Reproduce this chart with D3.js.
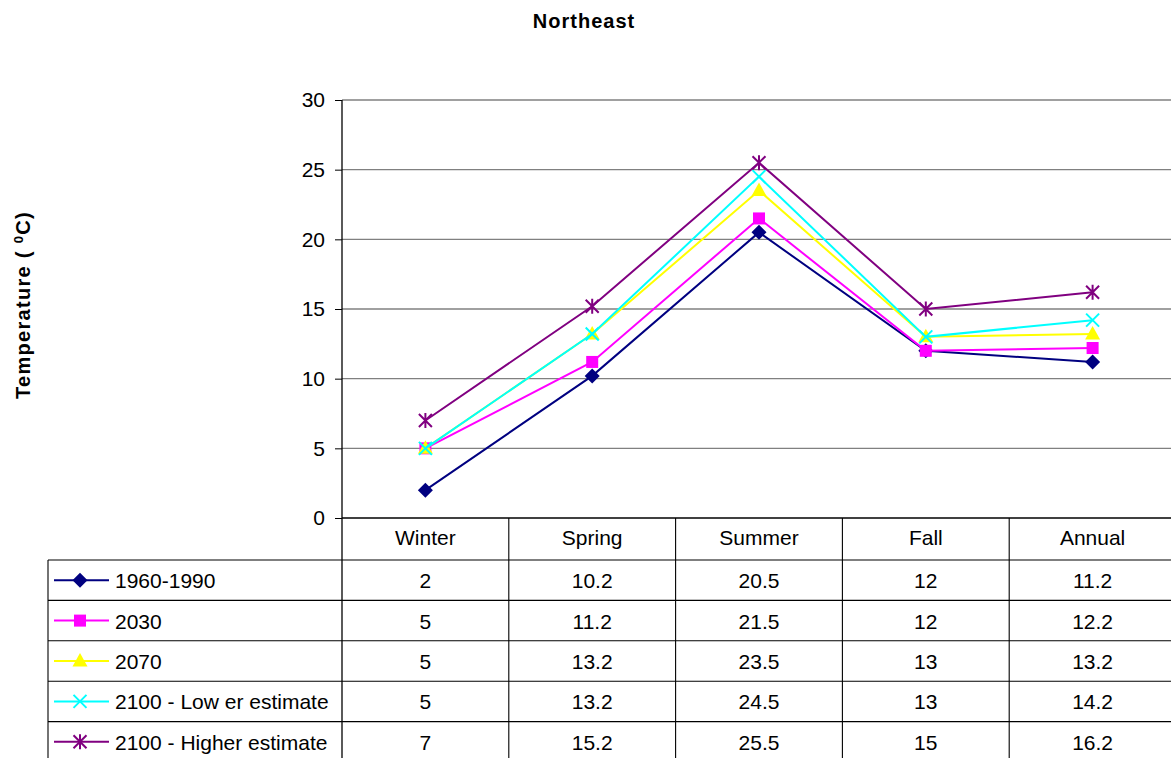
<!DOCTYPE html>
<html><head><meta charset="utf-8">
<script src="https://cdn.jsdelivr.net/npm/d3@7"></script>
<style>body{margin:0;background:#fff}svg{display:block}text{font-family:"Liberation Sans",Arial,sans-serif}</style>
</head><body><svg id="c" width="1171" height="758"></svg>
<script>
const categories = ["Winter","Spring","Summer","Fall","Annual"];
const seriesNames = ["1960-1990","2030","2070","2100 - Low er estimate","2100 - Higher estimate"];
const s1960 = [2,10.2,20.5,12,11.2];
const s2030 = [5,11.2,21.5,12,12.2];
const s2070 = [5,13.2,23.5,13,13.2];
const s2100low = [5,13.2,24.5,13,14.2];
const s2100high = [7,15.2,25.5,15,16.2];
const yTicks = [0,5,10,15,20,25,30];
const colors = ["#000080","#FF00FF","#FFFF00","#00FFFF","#800080"];
const markers = ["diamond","square","triangle","x","star"];
const series = [s1960,s2030,s2070,s2100low,s2100high].map((v,i)=>({name:seriesNames[i],values:v,color:colors[i],marker:markers[i]}));

const svg = d3.select("#c");
const pL = 342, pR = 1176, pT = 100, pB = 518;
const FS = 21;
const x = d3.scaleBand().domain(categories).range([pL,pR]);
const y = d3.scaleLinear().domain([0,30]).range([pB,pT]);
const cx = d => x(d) + x.bandwidth()/2;

// title
svg.append("text").attr("x",584).attr("y",28).attr("text-anchor","middle")
  .attr("font-size",20).attr("font-weight","bold").attr("letter-spacing",1).text("Northeast");
// y label
const yl = svg.append("text").attr("transform","translate(30,305) rotate(-90)")
  .attr("text-anchor","middle").attr("font-size",20).attr("font-weight","bold").attr("letter-spacing",1.3);
yl.append("tspan").text("Temperature (  ");
yl.append("tspan").attr("font-size",13).attr("dy",-7).text("0");
yl.append("tspan").attr("dy",7).text("C)");

// grid
svg.append("g").selectAll("line").data(yTicks.filter(t=>t>0)).join("line")
  .attr("x1",pL).attr("x2",pR).attr("y1",d=>y(d)).attr("y2",d=>y(d))
  .attr("stroke","#808080").attr("stroke-width",1.3);

// y axis
const ya = svg.append("g").attr("transform",`translate(${pL},0)`)
  .call(d3.axisLeft(y).tickValues(yTicks).tickSize(7).tickPadding(10).tickFormat(d3.format("d")));
ya.select(".domain").remove();
ya.selectAll(".tick line").attr("stroke","#000");
ya.selectAll("text").attr("font-size",FS).attr("font-family","Liberation Sans, Arial, sans-serif").attr("fill","#000");
svg.append("line").attr("x1",pL).attr("x2",pL).attr("y1",pT).attr("y2",762).attr("stroke","#000").attr("stroke-width",1.3);

// table
const rowH = 40.4;
const tbl = svg.append("g");
tbl.append("line").attr("x1",pL).attr("x2",pR).attr("y1",pB).attr("y2",pB).attr("stroke","#000").attr("stroke-width",1.3);
const rowYs = d3.range(5).map(i=>560+i*rowH);
tbl.selectAll("line.h").data(rowYs).join("line").attr("class","h")
  .attr("x1",48).attr("x2",pR).attr("y1",d=>d).attr("y2",d=>d).attr("stroke","#000").attr("stroke-width",1.1);
tbl.append("line").attr("x1",48).attr("x2",48).attr("y1",560).attr("y2",762).attr("stroke","#000").attr("stroke-width",1.1);
tbl.selectAll("line.v").data(categories.slice(1)).join("line").attr("class","v")
  .attr("x1",d=>x(d)).attr("x2",d=>x(d)).attr("y1",pB).attr("y2",762).attr("stroke","#000").attr("stroke-width",1.1);
tbl.selectAll("text.cat").data(categories).join("text").attr("class","cat")
  .attr("x",d=>cx(d)).attr("y",pB+27).attr("text-anchor","middle").attr("font-size",FS).text(d=>d);

function drawMarker(g,type,color,px,py){
  if(type==="diamond"){
    g.append("path").attr("d",`M${px},${py-7.5}L${px+7.5},${py}L${px},${py+7.5}L${px-7.5},${py}Z`).attr("fill",color);
  } else if(type==="square"){
    g.append("rect").attr("x",px-6).attr("y",py-6).attr("width",12).attr("height",12).attr("fill",color);
  } else if(type==="triangle"){
    g.append("path").attr("d",`M${px},${py-8}L${px+7.5},${py+5.5}L${px-7.5},${py+5.5}Z`).attr("fill",color);
  } else if(type==="x"){
    g.append("path").attr("d",`M${px-6.5},${py-6.5}L${px+6.5},${py+6.5}M${px+6.5},${py-6.5}L${px-6.5},${py+6.5}`).attr("stroke",color).attr("stroke-width",2);
  } else {
    g.append("path").attr("d",`M${px-6.5},${py-6.5}L${px+6.5},${py+6.5}M${px+6.5},${py-6.5}L${px-6.5},${py+6.5}M${px},${py-7.5}L${px},${py+7.5}`).attr("stroke",color).attr("stroke-width",2);
  }
}

const line = d3.line().x((d,i)=>cx(categories[i])).y(d=>y(d));
series.forEach((s,si)=>{
  const g = svg.append("g");
  g.append("path").attr("d",line(s.values)).attr("fill","none").attr("stroke",s.color).attr("stroke-width",2);
  s.values.forEach((v,i)=>drawMarker(g,s.marker,s.color,cx(categories[i]),y(v)));
  const ry = rowYs[si] + rowH/2;
  g.append("line").attr("x1",54).attr("x2",109).attr("y1",ry).attr("y2",ry).attr("stroke",s.color).attr("stroke-width",2);
  drawMarker(g,s.marker,s.color,80,ry);
  g.append("text").attr("x",115).attr("y",ry+8).attr("font-size",FS).text(s.name);
  g.selectAll("text.v").data(s.values).join("text").attr("class","v")
    .attr("x",(d,i)=>cx(categories[i])).attr("y",ry+8).attr("text-anchor","middle").attr("font-size",FS).text(d=>d);
});
</script></body></html>
